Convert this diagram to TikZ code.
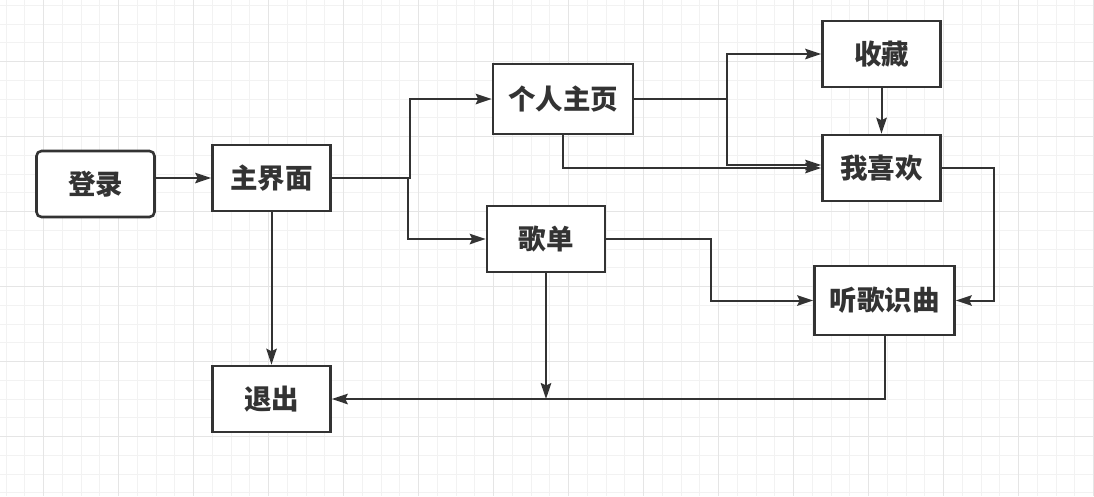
\documentclass[tikz,border=0pt]{standalone}
\usepackage{fontspec}
\newfontfamily\cjk{Noto Sans CJK SC}
\usetikzlibrary{arrows.meta}

\begin{document}
\begin{tikzpicture}[x=1pt, y=-1pt,
  every node/.style={draw=black!80, line width=2.6pt, rectangle, fill=white, inner sep=0pt, minimum width=118pt, minimum height=66pt, text=black!80, font=\cjk\bfseries\fontsize{27.5}{32}\selectfont},
  link/.style={draw=black!80, line width=2pt, -{Stealth[length=16pt, width=10.5pt, inset=2.5pt]}}]
\useasboundingbox (0,0) rectangle (1094,496);
% grid
\foreach \k in {0,...,58} \draw[black!5, line width=1pt] (6+18.75*\k,0) -- (6+18.75*\k,496);
\foreach \k in {0,...,26} \draw[black!5, line width=1pt] (0,5.45+18.75*\k) -- (1094,5.45+18.75*\k);
\foreach \k in {0,...,14} \draw[black!10, line width=1pt] (43.5+75*\k,0) -- (43.5+75*\k,496);
\foreach \k in {0,...,5} \draw[black!10, line width=1pt] (0,61.7+75*\k) -- (1094,61.7+75*\k);
% boxes
\node[rounded corners=5pt] (login) at (95.5,184) {登录};
\node (main) at (271.5,178) {主界面};
\node[minimum width=140pt, minimum height=70pt] (home) at (563,99) {个人主页};
\node (list) at (546,239) {歌单};
\node (fav) at (881.5,54) {收藏};
\node (like) at (881.5,168) {我喜欢};
\node[minimum width=140pt, minimum height=69pt] (song) at (884.5,300.5) {听歌识曲};
\node (quit) at (271.5,399) {退出};
% links
\draw[link] (login.east |- main.west) -- (main.west);
\draw[link] (main.east) -- ++(78,0) |- (home.west);
\draw[link] (main.east) -- ++(76,0) |- (list.west);
\draw[link] (home.east) -- ++(93,0) |- (fav.west);
\draw[link] (home.east) -- ++(93,0) |- ([yshift=3pt]like.west);
\draw[link] (home.south) |- (like.west);
\draw[link] (fav.south) -- (like.north);
\draw[link] (like.east) -- ++(52,0) |- (song.east);
\draw[link] (list.east) -- ++(105,0) |- (song.west);
\draw[link] (list.south) -- (list.south |- quit.east);
\draw[link] (song.south) |- (quit.east);
\draw[link] (main.south) -- (quit.north);
\end{tikzpicture}
\end{document}
